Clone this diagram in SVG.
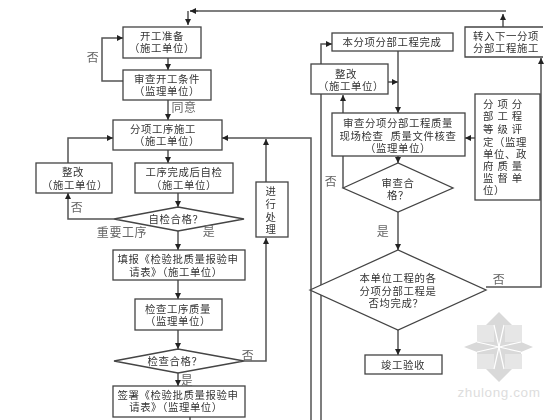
<svg xmlns="http://www.w3.org/2000/svg" width="560" height="420" viewBox="0 0 560 420">
<defs>
<marker id="a" markerUnits="userSpaceOnUse" markerWidth="7" markerHeight="7" refX="6" refY="3" orient="auto"><path d="M0 0L6 3L0 6Z" fill="#222"/></marker>
<filter id="soft" x="-5%" y="-5%" width="110%" height="110%"><feGaussianBlur stdDeviation="0.35"/></filter>
</defs>
<style>
.n{fill:#fff;stroke:#444;stroke-width:1.3}
.c{fill:none;stroke:#555;stroke-width:1.5}
.ar{marker-end:url(#a)}
text{font-family:"Liberation Sans","Noto Sans CJK SC",sans-serif;font-size:10.4px;letter-spacing:.6px;fill:#333;text-anchor:middle}
.s{text-anchor:start}
.l{font-size:12px;fill:#666}
.wm{fill:#ddd;font-family:"Liberation Sans",sans-serif;font-size:13.5px}
</style>
<rect width="560" height="420" fill="#fff"/>
<g id="watermark">
<polygon points="499,312 516,329 521,325 521,342 533,347 521,352 521,368 516,365 499,382 482,365 477,368 477,352 464,347 477,342 477,325 482,329" fill="#d9d9d9"/>
<rect x="477" y="325" width="17" height="17" fill="#e6e6e6"/>
<rect x="505" y="325" width="17" height="17" fill="#e6e6e6"/>
<rect x="477" y="354" width="17" height="15" fill="#e6e6e6"/>
<rect x="505" y="354" width="17" height="15" fill="#e6e6e6"/>
<path d="M499 347L494 325M499 347L504 325M499 347L477 342M499 347L521 342M499 347L477 352M499 347L521 352M499 347L494 369M499 347L504 369" stroke="#fff" stroke-width="1.2" fill="none"/>
<text class="wm" x="499" y="397">zhulong.com</text>
</g>
<g id="connectors" filter="url(#soft)">
<path class="c" d="M506 11H190"/>
<path class="c ar" d="M198 11H190"/>
<path class="c ar" d="M188 11V25"/>
<path class="c ar" d="M168 58V70"/>
<path class="c ar" d="M123 81H102V38H123"/>
<path class="c ar" d="M168 100V120"/>
<path class="c ar" d="M168 150V163"/>
<path class="c ar" d="M178 193V207"/>
<path class="c ar" d="M114 219H68V193"/>
<path class="c ar" d="M68 163V138H113"/>
<path class="c ar" d="M178 231V250"/>
<path class="c ar" d="M178 280V299"/>
<path class="c ar" d="M178 330V349"/>
<path class="c ar" d="M178 373V386"/>
<path class="c ar" d="M244 361H266V238"/>
<path class="c ar" d="M266 182V139"/>
<path class="c ar" d="M311 420V138H222"/>
<path class="c" d="M190 417V420"/>
<path class="c ar" d="M321 420V44H332"/>
<path class="c ar" d="M398 51V113"/>
<path class="c ar" d="M388 82H398"/>
<path class="c ar" d="M398 156V163"/>
<path class="c ar" d="M343 188V95"/>
<path class="c ar" d="M398 212V250"/>
<path class="c ar" d="M398 330V355"/>
<path class="c ar" d="M475 138H465"/>
<path class="c ar" d="M486 287H541V58"/>
<path class="c ar" d="M503 27V14"/>
</g>
<g filter="url(#soft)">
<g id="n1"><rect class="n" x="123" y="27" width="78" height="31"/><text y="40"><tspan x="162">开工准备</tspan><tspan x="162" dy="12">（施工单位）</tspan></text></g>
<g id="n2"><rect class="n" x="123" y="70" width="88" height="30"/><text y="83"><tspan x="167">审查开工条件</tspan><tspan x="167" dy="12">（监理单位）</tspan></text></g>
<g id="n3"><rect class="n" x="113" y="120" width="109" height="30"/><text y="133"><tspan x="163">分项工序施工</tspan><tspan x="167" dy="12">（施工单位）</tspan></text></g>
<g id="n4"><rect class="n" x="36" y="163" width="76" height="30"/><text y="176"><tspan x="73">整改</tspan><tspan x="75" dy="13">（施工单位）</tspan></text></g>
<g id="n5"><rect class="n" x="135" y="163" width="98" height="30"/><text y="176"><tspan x="184">工序完成后自检</tspan><tspan x="184" dy="13">（施工单位）</tspan></text></g>
<g id="n6"><rect class="n" x="256" y="182" width="32" height="55"/><text y="195"><tspan x="271">进</tspan><tspan x="271" dy="13">行</tspan><tspan x="271" dy="13">处</tspan><tspan x="271" dy="12">理</tspan></text></g>
<g id="n7"><polygon class="n" points="114,219 178,207 244,219 178,231"/><text x="176" y="223">自检合格？</text></g>
<g id="n8"><rect class="n" x="113" y="250" width="132" height="30"/><text y="263"><tspan x="178">填报《检验批质量报验申</tspan><tspan x="176" dy="13">请表》（施工单位）</tspan></text></g>
<g id="n9"><rect class="n" x="135" y="299" width="87" height="31"/><text y="313"><tspan x="178">检查工序质量</tspan><tspan x="178" dy="12">（监理单位）</tspan></text></g>
<g id="n10"><polygon class="n" points="114,361 178,349 244,361 178,373"/><text x="175" y="365">检查合格？</text></g>
<g id="n11"><rect class="n" x="113" y="386" width="132" height="31"/><text y="399"><tspan x="178">签署《检验批质量报验申</tspan><tspan x="176" dy="12">请表》（监理单位）</tspan></text></g>
<g id="n12"><rect class="n" x="332" y="33" width="121" height="18"/><text x="392" y="46">本分项分部工程完成</text></g>
<g id="n13"><rect class="n" x="311" y="64" width="77" height="30"/><text y="78"><tspan x="346">整改</tspan><tspan x="351" dy="12">（施工单位）</tspan></text></g>
<g id="n14"><rect class="n" x="332" y="113" width="133" height="43"/><text y="127" xml:space="preserve"><tspan x="398">审查分项分部工程质量</tspan><tspan x="398" dy="13">现场检查  质量文件核查</tspan><tspan x="398" dy="12">（监理单位）</tspan></text></g>
<g id="n15"><rect class="n" x="475" y="94" width="65" height="106"/><text class="s" y="108"><tspan x="483" letter-spacing="4">分项分</tspan><tspan x="483" dy="12" letter-spacing="4">部工程</tspan><tspan x="483" dy="13" letter-spacing="4">等级评</tspan><tspan x="483" dy="13">定（监理</tspan><tspan x="483" dy="12">单位、政</tspan><tspan x="483" dy="12" letter-spacing="4">府质量</tspan><tspan x="483" dy="12" letter-spacing="4">监督单</tspan><tspan x="483" dy="12">位）</tspan></text></g>
<g id="n16"><polygon class="n" points="343,188 398,163 453,188 398,212"/><text y="187"><tspan x="398">审查合</tspan><tspan x="398" dy="12">格？</tspan></text></g>
<g id="n17"><path class="n" d="M543 27H465V57H543"/><text y="40"><tspan x="506">转入下一分项</tspan><tspan x="506" dy="12">分部工程施工</tspan></text></g>
<g id="n18"><polygon class="n" points="310,290 398,250 486,290 398,330"/><text y="282"><tspan x="398">本单位工程的各</tspan><tspan x="398" dy="13">分项分部工程是</tspan><tspan x="396" dy="12">否均完成？</tspan></text></g>
<g id="n19"><rect class="n" x="365" y="355" width="77" height="19"/><text x="403" y="369">竣工验收</text></g>
<g id="labels">
<text class="l" x="93" y="62">否</text>
<text class="l" x="184" y="112" letter-spacing="1">同意</text>
<text class="l" x="77" y="212">否</text>
<text class="l" x="122" y="237" letter-spacing="2">重要工序</text>
<text class="l" x="209" y="236">是</text>
<text class="l" x="248" y="360">否</text>
<text class="l" x="187" y="385">是</text>
<text class="l" x="331" y="186">否</text>
<text class="l" x="383" y="236">是</text>
<text class="l" x="499" y="284">否</text>
</g>
</g>
</svg>
